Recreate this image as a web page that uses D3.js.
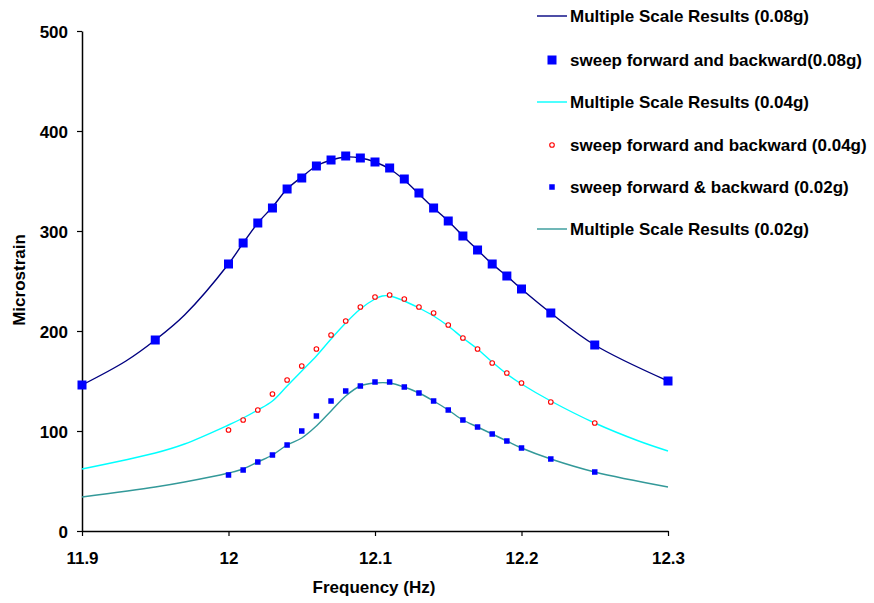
<!DOCTYPE html>
<html>
<head>
<meta charset="utf-8">
<script src="https://cdn.jsdelivr.net/npm/d3@7/dist/d3.min.js"></script>
<style>
  html, body { margin: 0; padding: 0; background: #fff; }
  svg { display: block; font-family: "Liberation Sans", Arial, sans-serif; }
</style>
</head>
<body>
<svg id="chart" width="874" height="603"></svg>
<script>
// Measured strain response vs. excitation frequency
const xTicks = [11.9, 12.0, 12.1, 12.2, 12.3];
const xTickLabels = ["11.9", "12", "12.1", "12.2", "12.3"];
const yTicks = [0, 100, 200, 300, 400, 500];

// Sweep data, 0.08g
const sweep08Freq = [11.9, 11.95, 12.0, 12.01, 12.02, 12.03, 12.04, 12.05, 12.06, 12.07, 12.08, 12.09, 12.1,
  12.11, 12.12, 12.13, 12.14, 12.15, 12.16, 12.17, 12.18, 12.19, 12.2, 12.22, 12.25, 12.3];
const sweep08Val = [146, 191, 267, 288, 308, 323, 342, 353, 365, 371, 375, 373, 369,
  363, 352, 338, 323, 310, 295, 281, 267, 255, 242, 218, 186, 150];

// Sweep data, 0.04g
const sweep04Freq = [12.0, 12.01, 12.02, 12.03, 12.04, 12.05, 12.06, 12.07, 12.08, 12.09, 12.1, 12.11,
  12.12, 12.13, 12.14, 12.15, 12.16, 12.17, 12.18, 12.19, 12.2, 12.22, 12.25];
const sweep04Val = [101, 111, 121, 137, 151, 165, 182, 196, 210, 224, 234, 236,
  232, 224, 218, 206, 193, 182, 168, 158, 148, 129, 108];

// Sweep data, 0.02g
const sweep02Freq = [12.0, 12.01, 12.02, 12.03, 12.04, 12.05, 12.06, 12.07, 12.08, 12.09, 12.1, 12.11,
  12.12, 12.13, 12.14, 12.15, 12.16, 12.17, 12.18, 12.19, 12.2, 12.22, 12.25];
const sweep02Val = [56, 61, 69, 76, 86, 100, 115, 130, 140, 145, 149, 149,
  144, 138, 130, 121, 111, 104, 97, 90, 83, 72, 59];

// Multiple scale predictions
const ms08Freq = [11.9, 11.93, 11.95, 11.97, 12.0, 12.01, 12.02, 12.03, 12.04, 12.05, 12.06, 12.07, 12.08, 12.09, 12.1,
  12.11, 12.12, 12.13, 12.14, 12.15, 12.16, 12.17, 12.18, 12.19, 12.2, 12.22, 12.25, 12.3];
const ms08Val = [146, 170, 191, 216, 267, 288, 308, 324, 342, 354, 365, 371, 374, 373, 369,
  362, 351, 337, 323, 310, 295, 281, 267, 255, 242, 218, 186, 150];

const ms04Freq = [11.9, 11.95, 11.97, 12.0, 12.01, 12.02, 12.03, 12.04, 12.05, 12.06, 12.07, 12.08, 12.09, 12.1,
  12.105, 12.11, 12.12, 12.13, 12.14, 12.15, 12.16, 12.17, 12.18, 12.19, 12.2, 12.22, 12.25, 12.28, 12.3];
const ms04Val = [62, 78, 87, 106, 113, 121, 130, 145, 160, 175, 192, 208, 222, 232,
  235, 235, 230, 223, 215, 205, 193, 182, 169, 157, 147, 130, 108, 90, 80];

const ms02Freq = [11.9, 11.95, 11.97, 12.0, 12.01, 12.02, 12.03, 12.04, 12.05, 12.06, 12.07, 12.08, 12.09, 12.1,
  12.11, 12.12, 12.13, 12.14, 12.15, 12.16, 12.17, 12.18, 12.19, 12.2, 12.22, 12.25, 12.3];
const ms02Val = [34, 44, 49, 58, 62, 69, 76, 86, 93, 105, 120, 135, 145, 148,
  148, 144, 138, 130, 121, 111, 104, 97, 90, 83, 72, 59, 44];

const legendLabels = [
  "Multiple Scale Results (0.08g)",
  "sweep forward and backward(0.08g)",
  "Multiple Scale Results (0.04g)",
  "sweep forward and backward (0.04g)",
  "sweep forward & backward (0.02g)",
  "Multiple Scale Results (0.02g)"
];

const svg = d3.select("#chart");
const plotLeft = 82, plotRight = 668, plotTop = 31, plotBottom = 531;
const fontSize = "17px";

const x = d3.scaleLinear().domain([11.9, 12.3]).range([plotLeft, plotRight]);
const y = d3.scaleLinear().domain([0, 500]).range([plotBottom, plotTop]);

const zip = (fs, vs) => fs.map((f, i) => ({ f, v: vs[i] }));

// Axes
const xAxis = d3.axisBottom(x).tickValues(xTicks)
  .tickFormat((d, i) => xTickLabels[i]).tickSize(5).tickSizeOuter(0);
const yAxis = d3.axisLeft(y).tickValues(yTicks).tickSize(5).tickSizeOuter(0);

const gx = svg.append("g").attr("transform", `translate(0,${plotBottom})`).call(xAxis);
const gy = svg.append("g").attr("transform", `translate(${plotLeft},0)`).call(yAxis);

[gx, gy].forEach(g => {
  g.select(".domain").attr("stroke", "#000").attr("stroke-width", 1.5);
  g.selectAll(".tick line").attr("stroke", "#000").attr("stroke-width", 1.2);
  g.selectAll(".tick text")
    .attr("fill", "#000")
    .style("font-size", fontSize)
    .style("font-weight", "bold")
    .style("font-family", "'Liberation Sans', Arial, sans-serif");
});
gx.selectAll(".tick text").attr("dy", null).attr("y", 33);
gy.selectAll(".tick text").attr("x", -14).attr("dy", "0.36em");

// Axis titles
svg.append("text")
  .attr("x", 374).attr("y", 593)
  .attr("text-anchor", "middle")
  .style("font-size", fontSize).style("font-weight", "bold")
  .text("Frequency (Hz)");

svg.append("text")
  .attr("transform", "translate(25,280) rotate(-90)")
  .attr("text-anchor", "middle")
  .style("font-size", fontSize).style("font-weight", "bold")
  .text("Microstrain");

// Curves
const line = d3.line().x(d => x(d.f)).y(d => y(d.v)).curve(d3.curveCatmullRom.alpha(0.5));

const plot = svg.append("g");

plot.append("path").datum(zip(ms02Freq, ms02Val))
  .attr("d", line).attr("fill", "none").attr("stroke", "#339999").attr("stroke-width", 1.4);
plot.append("path").datum(zip(ms04Freq, ms04Val))
  .attr("d", line).attr("fill", "none").attr("stroke", "#00ffff").attr("stroke-width", 1.4);
plot.append("path").datum(zip(ms08Freq, ms08Val))
  .attr("d", line).attr("fill", "none").attr("stroke", "#000080").attr("stroke-width", 1.4);

// Markers
const big = 9, small = 5.5;
plot.selectAll(".s08").data(zip(sweep08Freq, sweep08Val)).enter().append("rect")
  .attr("x", d => x(d.f) - big / 2).attr("y", d => y(d.v) - big / 2)
  .attr("width", big).attr("height", big).attr("fill", "#0000ff");

plot.selectAll(".s04").data(zip(sweep04Freq, sweep04Val)).enter().append("circle")
  .attr("cx", d => x(d.f)).attr("cy", d => y(d.v)).attr("r", 2.3)
  .attr("fill", "#fff").attr("stroke", "#ff0000").attr("stroke-width", 1.1);

plot.selectAll(".s02").data(zip(sweep02Freq, sweep02Val)).enter().append("rect")
  .attr("x", d => x(d.f) - small / 2).attr("y", d => y(d.v) - small / 2)
  .attr("width", small).attr("height", small).attr("fill", "#0000ff");

// Legend
const legendY = [16, 60, 102, 145, 187, 229];
const legend = svg.append("g");
const kinds = [
  { type: "line", color: "#000080" },
  { type: "bigsq" },
  { type: "line", color: "#00ffff" },
  { type: "circle" },
  { type: "smallsq" },
  { type: "line", color: "#339999" }
];
kinds.forEach((k, i) => {
  const cy = legendY[i];
  if (k.type === "line") {
    legend.append("line").attr("x1", 537).attr("x2", 567).attr("y1", cy).attr("y2", cy)
      .attr("stroke", k.color).attr("stroke-width", 1.4);
  } else if (k.type === "bigsq") {
    legend.append("rect").attr("x", 552 - big / 2).attr("y", cy - big / 2)
      .attr("width", big).attr("height", big).attr("fill", "#0000ff");
  } else if (k.type === "circle") {
    legend.append("circle").attr("cx", 552).attr("cy", cy).attr("r", 2.3)
      .attr("fill", "#fff").attr("stroke", "#ff0000").attr("stroke-width", 1.1);
  } else {
    legend.append("rect").attr("x", 552 - small / 2).attr("y", cy - small / 2)
      .attr("width", small).attr("height", small).attr("fill", "#0000ff");
  }
  legend.append("text").attr("x", 570).attr("y", cy).attr("dy", "0.36em")
    .style("font-size", fontSize).style("font-weight", "bold")
    .text(legendLabels[i]);
});
</script>
</body>
</html>
